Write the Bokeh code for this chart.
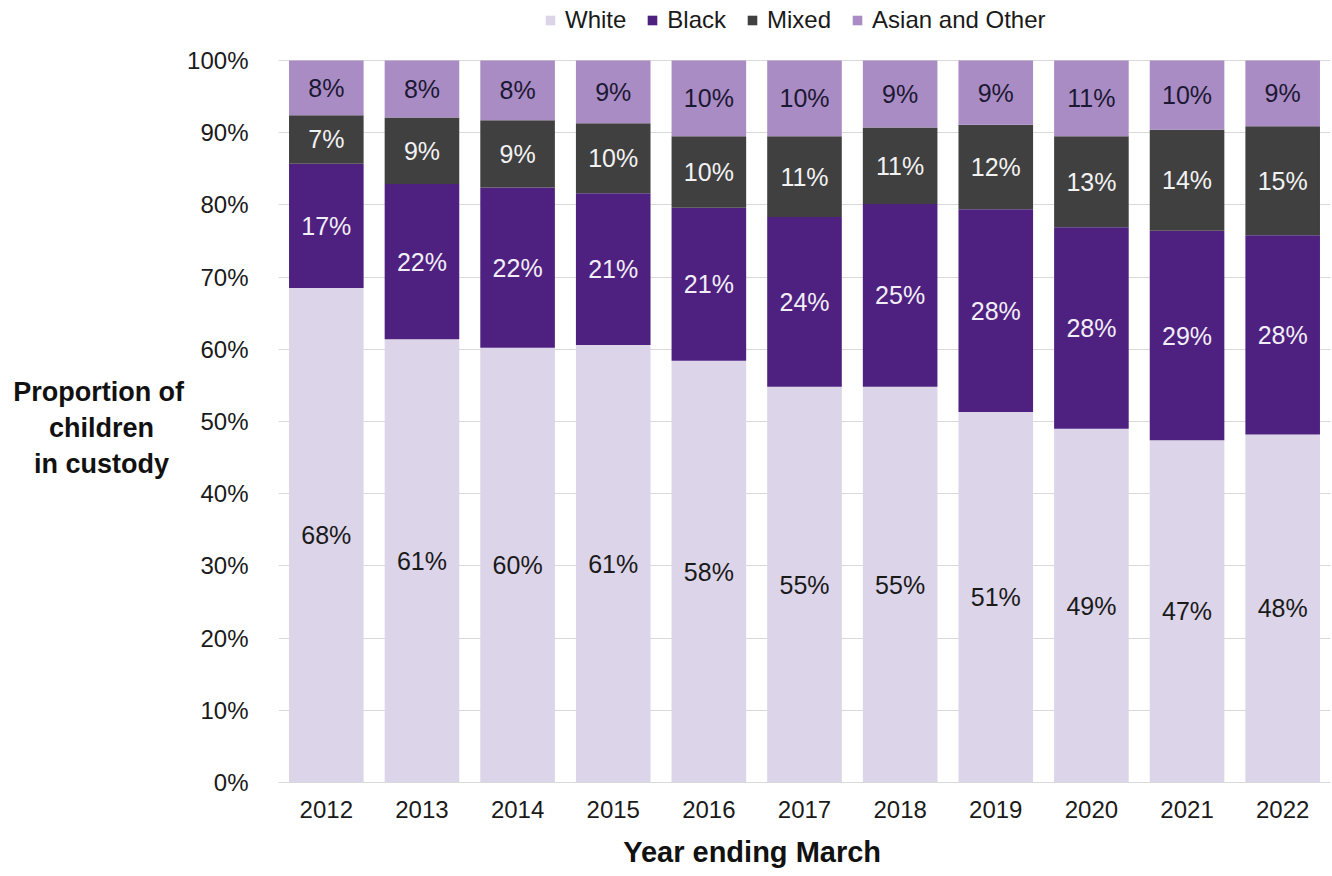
from bokeh.plotting import figure
from bokeh.models import ColumnDataSource, Legend, LegendItem, FixedTicker, Range1d
from bokeh.core.properties import value
from bokeh.embed import file_html
from bokeh.resources import INLINE

years = ["2012", "2013", "2014", "2015", "2016", "2017", "2018", "2019", "2020", "2021", "2022"]
white = [68.5, 61.4, 60.2, 60.6, 58.4, 54.8, 54.8, 51.3, 49.0, 47.4, 48.2]
black = [17.2, 21.5, 22.2, 21.0, 21.2, 23.5, 25.3, 28.1, 27.9, 29.0, 27.6]
mixed = [6.7, 9.2, 9.3, 9.7, 9.9, 11.2, 10.6, 11.7, 12.6, 14.0, 15.1]
asian = [7.6, 7.9, 8.3, 8.7, 10.5, 10.5, 9.3, 8.9, 10.5, 9.6, 9.1]

white_lbl = ["68%", "61%", "60%", "61%", "58%", "55%", "55%", "51%", "49%", "47%", "48%"]
black_lbl = ["17%", "22%", "22%", "21%", "21%", "24%", "25%", "28%", "28%", "29%", "28%"]
mixed_lbl = ["7%", "9%", "9%", "10%", "10%", "11%", "11%", "12%", "13%", "14%", "15%"]
asian_lbl = ["8%", "8%", "8%", "9%", "10%", "10%", "9%", "9%", "11%", "10%", "9%"]

series = ["White", "Black", "Mixed", "Asian and Other"]
colors = ["#DCD4E8", "#4E2180", "#404040", "#AA8CC4"]
text_colors = ["#1a1a1a", "#f2eef7", "#f2f2f2", "#1c1833"]
y_ticks = [0, 10, 20, 30, 40, 50, 60, 70, 80, 90, 100]
y_title = "\u00a0\n\u00a0\nProportion of\nchildren\u00a0\u00a0\u00a0\u00a0\nin custody\u00a0\u00a0"
x_title = "Year ending March" + "\u00a0" * 13

FONT = "Liberation Sans"

data = {"year": years, "White": white, "Black": black, "Mixed": mixed, "Asian and Other": asian}
source = ColumnDataSource(data)

# frame extends to the top of the canvas so the legend can sit above the 100% line
p = figure(x_range=years, y_range=Range1d(0, 108.3), frame_width=1052, frame_height=782,
           output_backend="svg", toolbar_location=None,
           min_border_left=278, min_border_right=2, min_border_top=0, min_border_bottom=94)

renderers = p.vbar_stack(series, x="year", width=0.78, color=colors, line_color=None, source=source)

# segment labels
cols = [white, black, mixed, asian]
lbls = [white_lbl, black_lbl, mixed_lbl, asian_lbl]
base = [0.0] * len(years)
for vals, lab, tc in zip(cols, lbls, text_colors):
    mids = [b + v / 2 for b, v in zip(base, vals)]
    base = [b + v for b, v in zip(base, vals)]
    src = ColumnDataSource(dict(x=years, y=mids, t=lab))
    p.text(x="x", y="y", text="t", source=src, text_align="center", text_baseline="middle",
           text_font=value(FONT), text_font_size="25px", text_color=tc)

legend = Legend(items=[LegendItem(label=s, renderers=[r]) for s, r in zip(series, renderers)],
                orientation="horizontal", location=(266, 748),
                label_text_font=FONT, label_text_font_size="24px", label_text_color="#1a1a1a",
                glyph_width=12, glyph_height=12, label_standoff=9, spacing=20,
                padding=0, margin=0, border_line_color=None, background_fill_alpha=0)
p.add_layout(legend)

p.outline_line_color = None
p.xgrid.grid_line_color = None
p.ygrid.grid_line_color = "#d9d9d9"
p.ygrid.grid_line_width = 1
p.yaxis.ticker = FixedTicker(ticks=y_ticks)
p.yaxis.major_label_overrides = {t: f"{t}%" for t in y_ticks}
p.x_range.range_padding = 0

for ax in (p.xaxis, p.yaxis):
    ax.major_tick_line_color = None
    ax.minor_tick_line_color = None
    ax.major_label_text_font = FONT
    ax.major_label_text_font_size = "24px"
    ax.major_label_text_color = "#1a1a1a"
    ax.axis_label_text_font = FONT
    ax.axis_label_text_font_style = "bold"
    ax.axis_label_text_font_size = "27px"
    ax.axis_label_text_color = "#111111"

p.xaxis.axis_label_text_font_size = "29px"
p.yaxis.axis_line_color = None
p.xaxis.axis_line_color = "#d9d9d9"
p.yaxis.major_label_standoff = 24
p.xaxis.major_label_standoff = 12
p.xaxis.axis_label = x_title
p.xaxis.axis_label_standoff = 15
p.yaxis.axis_label = y_title
p.yaxis.axis_label_orientation = "horizontal"
p.yaxis.axis_label_standoff = 0

open("out.html", "w").write(file_html(p, INLINE))
